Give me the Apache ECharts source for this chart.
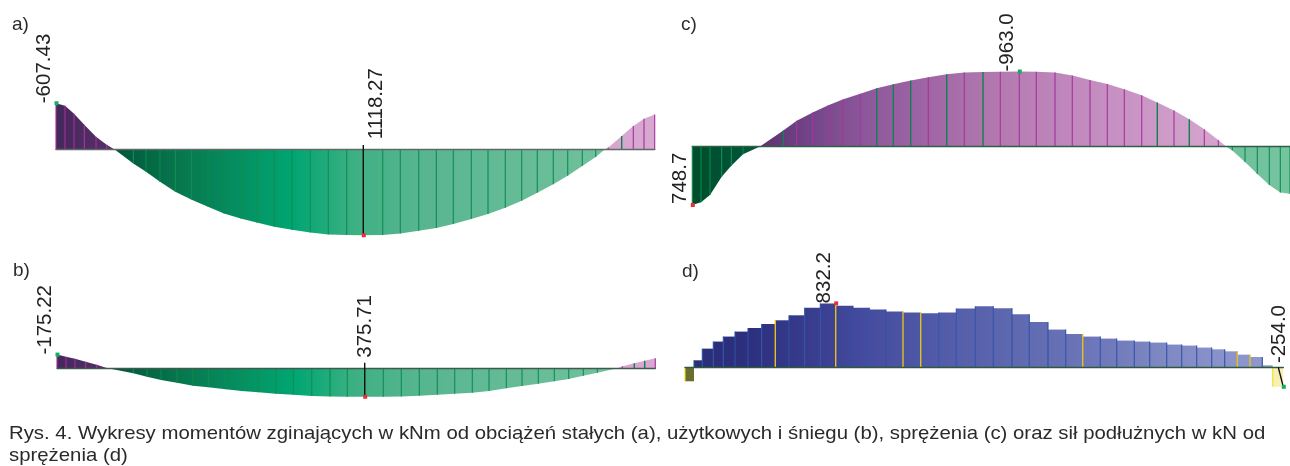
<!DOCTYPE html>
<html><head><meta charset="utf-8">
<style>html,body{margin:0;padding:0;background:#fff}#c{width:1290px;height:466px}</style>
<script src="https://cdn.jsdelivr.net/npm/echarts@6/dist/echarts.min.js"></script>
</head><body><div id="c"></div>
<script>
// Data: station along the beam, and moment / force there
const aStations=[0,9,18,28.3,40,50.7,59,77.3,90,104,119.3,135.7,152,168,184.7,200.7,218.3,236,254.3,272.3,290.7,307.3,326.7,344.3,362.7,380.3,397.3,415.3,432,449.3,465.7,481.3,497.3,511.7,526.3,539.7,548.3,552.3,565.7,577.3,588,598.7];
const aMoments=[-607.43,-575,-470,-327,-170,-65,0,179,288,418,549,653,745,833,898,950,1006,1046,1081,1107,1115,1118.27,1115,1095,1059,1023,971,906,840,758,667,562,453,340,213,95,0,-30,-179,-310,-405,-461];
const aLabelStations=[0,307.3];
const aLabelValues=[-607.43,1118.27];
const aLabels=['-607.43','1118.27'];

const bStations=[0,9,18,28.7,39.7,49.7,76.3,90,104,120,136,151.3,168.7,184.7,201.3,218.7,236.3,254.7,273,290.3,307.7,326.3,344.3,362.3,380.3,397.7,415.3,432,449.3,465,481.3,497.3,511.7,526.3,540.3,561,565.3,577.3,587.7,598.3];
const bMoments=[-175.22,-148,-122,-82,-43,0,69,114,157,192,231,252,278,301,318,336,349,366,374,374.5,375.71,374.5,371,362,349,336,323,301,265,235,205,174,144,101,61,0,-22,-61,-95,-127];
const bLabelStations=[0,307.7];
const bLabelValues=[-175.22,375.71];
const bLabels=['-175.22','375.71'];

const cStations=[0,8.7,17.7,29.4,39,50.7,67.7,91,104.4,120.4,136,151,168,184.4,201,218.4,236,254.4,272,290.7,308,327,344,362.7,380,397.7,415,432,449.4,465,481.7,497,512,526,533.7,540,552.7,565,577,588,597.7];
const cMoments=[748.7,714,619,385,244,99,0,-205,-333,-436,-529,-606,-676,-747,-799,-846,-888,-927,-949,-958,-961,-963,-961,-949,-910,-855,-804,-735,-658,-564,-462,-350,-222,-86,0,51,196,350,491,590,606];
const cLabelStations=[0,327];
const cLabelValues=[748.7,-963];
const cLabels=['748.7','-963.0'];

const dEdges=[0,9,17.3,28.3,38.3,50,63,76.7,90.3,104,119.7,135.3,150.7,168,184.3,201,218,235.7,253.7,271.3,290.3,308.3,327,344.3,363,380.7,397.7,415.3,431.7,449.3,464.7,481.7,496.7,511.7,526.7,539.7,552.3,565,577.3,587.7,598.3];
const dForces=[-182,91,243,335,400,465,512,564,612,677,777,832.2,803,777,751,725,712,703,712,764,794,768,690,590,491,434,400,374,348,335,322,296,283,257,234,208,165,134,26,-254];
const dLabelStations=[150.7,598.3];
const dLabelValues=[832.2,-254];
const dLabels=['832.2','-254.0'];

const panelNames=['a)','b)','c)','d)'];
const captionLines=['Rys. 4. Wykresy momentów zginających w kNm od obciążeń stałych (a), użytkowych i śniegu (b), sprężenia (c) oraz sił podłużnych w kN od','sprężenia (d)'];

// Styles
const FONT='"Liberation Sans", Arial, sans-serif';
const purple=['#43285a','#59306b','#74458a','#8e5a9c','#a066a6','#b178ae','#bc84b8','#c690c2','#cf9cc9','#d6a6cf','#d8a8d2'];
const green=['#004d2c','#00563a','#07754d','#068e5f','#00a673','#3fb084','#55b58e','#5fb994','#68bc98','#6fc09c','#76c3a0'];
const blue=['#2a2f78','#2c2f7c','#363b8c','#454b9e','#4f58a6','#5a64ad','#636db2','#6f79ba','#7e88c3','#8a92cb','#9299d0'];
const RED='#ee2b3b',GRN='#0fb060';

const panels=[
 {st:aStations,val:aMoments,ls:aLabelStations,lv:aLabelValues,lt:aLabels,left:56,base:149.7,scale:.0765,top:90,h:160,inv:true,step:false,
  axis:'#5f6a66',accent:[565.7],off:[[-12,0],[12.7,-96]],mark:[GRN,RED],leader:[null,[307.3,-60]]},
 {st:bStations,val:bMoments,ls:bLabelStations,lv:bLabelValues,lt:bLabels,left:57,base:368,scale:.0765,top:340,h:70,inv:true,step:false,
  axis:'#3f5a4c',accent:[577.3,587.7],off:[[-12,0],[0.3,-39]],mark:[GRN,RED],leader:[null,[307.7,-70]]},
 {st:cStations,val:cMoments,ls:cLabelStations,lv:cLabelValues,lt:cLabels,left:692.3,base:146.6,scale:.078,top:60,h:160,inv:true,step:false,
  axis:'#2f5f46',accent:[91,184.4,201,218.4,254.4,290.7,465,497],off:[[-12.3,-1],[-12.3,0]],mark:[RED,GRN],leader:[null,null]},
 {st:dEdges,val:dForces,ls:dLabelStations,lv:dLabelValues,lt:dLabels,left:685,base:367.3,scale:.0768,top:295,h:100,inv:false,step:true,
  axis:'#2d5a3c',accent:[90.3,150.7,218,235.7,397.7,552.3,565],off:[[-11.7,0],[-4.3,-23.7]],mark:[RED,GRN],leader:[null,[593.3,0]]}
];

function segColor(p,f,sign){
  const ramp=p.step?blue:(sign>0?(p.inv?green:purple):(p.inv?purple:green));
  return echarts.color.lerp(Math.max(0,Math.min(1,f)),ramp);
}
function buildSeries(p,i){
  const span=p.st[p.st.length-1];
  const seg=[];
  if(p.step){
    p.val.forEach((v,k)=>{const pv=k?p.val[k-1]:v;
      const sep=(pv>0&&v>0)?Math.max(pv,v):v;
      seg.push([p.st[k],v,p.st[k+1],v,sep]);});
  }else{
    for(let k=0;k<p.st.length-1;k++) seg.push([p.st[k],p.val[k],p.st[k+1],p.val[k+1],p.val[k]]);
  }
  const last=seg.length-1;
  const segSeries={type:'custom',xAxisIndex:i,yAxisIndex:i,silent:true,animation:false,z:2,clip:false,
    encode:{x:[0,2],y:[1,3]},data:seg,
    renderItem(params,api){
      const x0=api.value(0),v0=api.value(1),x1=api.value(2),v1=api.value(3),sepV=api.value(4);
      const a=api.coord([x0,0]),b=api.coord([x0,v0]),c=api.coord([x1,v1]),d=api.coord([x1,0]);
      const sign=(v0+v1)>0?1:-1;
      let c0=segColor(p,x0/span,sign),c1=segColor(p,x1/span,sign);
      let stroke=p.step?'#3050a6':(((sign>0)===p.inv)?'#0a8a4e':'#a42f98');
      if(p.step&&v0<0){ // compression blocks at the two supports
        if(params.dataIndex===0){c0=c1='#6b6c30';}else{c0=c1='#f8efb4';}
        stroke='#ece41e';
      }
      const fill=new echarts.graphic.LinearGradient(0,0,1,0,[{offset:0,color:c0},{offset:1,color:c1}]);
      const kids=[{type:'polygon',shape:{points:[a,b,c,d]},style:{fill:fill,stroke:null}}];
      const sepLine=(xs,vs,col,w)=>{const q=api.coord([xs,0]),r=api.coord([xs,vs]);
        kids.push({type:'line',shape:{x1:q[0],y1:q[1],x2:r[0],y2:r[1]},style:{stroke:col,lineWidth:w}});};
      const accent=p.accent.indexOf(x0)>=0;
      let col=stroke;
      if(accent) col=p.step?'#e3c21c':'#12804f';
      if(sepV!==0) sepLine(x0,sepV,col,accent?1.4:1.1);
      if(params.dataIndex===last&&!p.step) sepLine(x1,v1,stroke,1.1);
      return {type:'group',children:kids};
    }};
  const marks=p.ls.map((s,k)=>[s,p.lv[k],k]);
  const markSeries={type:'custom',xAxisIndex:i,yAxisIndex:i,silent:true,animation:false,z:6,clip:false,
    encode:{x:0,y:1},data:marks,
    renderItem(params,api){
      const k=api.value(2),pt=api.coord([api.value(0),api.value(1)]);
      const kids=[];
      const ld=p.leader[k];
      if(ld){const q=api.coord(ld);
        kids.push({type:'line',shape:{x1:q[0],y1:q[1],x2:pt[0],y2:pt[1]},style:{stroke:'#111',lineWidth:1.4}});}
      kids.push({type:'rect',shape:{x:pt[0]-1.5,y:pt[1]-2,width:4,height:4},style:{fill:p.mark[k]}});
      kids.push({type:'text',x:pt[0]+p.off[k][0],y:pt[1]+p.off[k][1],rotation:Math.PI/2,
        style:{text:p.lt[k],font:'20.5px '+FONT,fill:'#222',align:'left',verticalAlign:'middle'}});
      return {type:'group',children:kids};
    }};
  return [segSeries,markSeries];
}

const chart=echarts.init(document.getElementById('c'),null,{renderer:'canvas'});
const txt=(s,x,y,size,fill,sx)=>({type:'text',x:x,y:y,scaleX:sx||1,silent:true,z:10,
  style:{text:s,font:size+'px '+FONT,fill:fill}});
chart.setOption({
  animation:false,backgroundColor:'#fff',
  grid:panels.map(p=>({left:p.left,top:p.top,width:p.st[p.st.length-1],height:p.h})),
  xAxis:panels.map((p,i)=>({type:'value',gridIndex:i,min:0,max:p.st[p.st.length-1],z:5,
    axisLine:{show:true,onZero:true,lineStyle:{color:p.axis,width:1.4}},axisTick:{show:false},axisLabel:{show:false},splitLine:{show:false}})),
  yAxis:panels.map((p,i)=>{
    const up=(p.base-p.top)/p.scale,down=(p.top+p.h-p.base)/p.scale;
    return {type:'value',gridIndex:i,inverse:p.inv,show:false,splitLine:{show:false},
      min:p.inv?-up:-down,max:p.inv?down:up};
  }),
  series:panels.flatMap(buildSeries),
  graphic:[
    txt(panelNames[0],12,15,19,'#2b2b2b'),
    txt(panelNames[1],13,261,19,'#2b2b2b'),
    txt(panelNames[2],681,15,19,'#2b2b2b'),
    txt(panelNames[3],682,262,19,'#2b2b2b'),
    txt(captionLines[0],9,424,19,'#2a2a2a',1.071),
    txt(captionLines[1],9,446,19,'#2a2a2a',1.071)
  ]
});
</script></body></html>
